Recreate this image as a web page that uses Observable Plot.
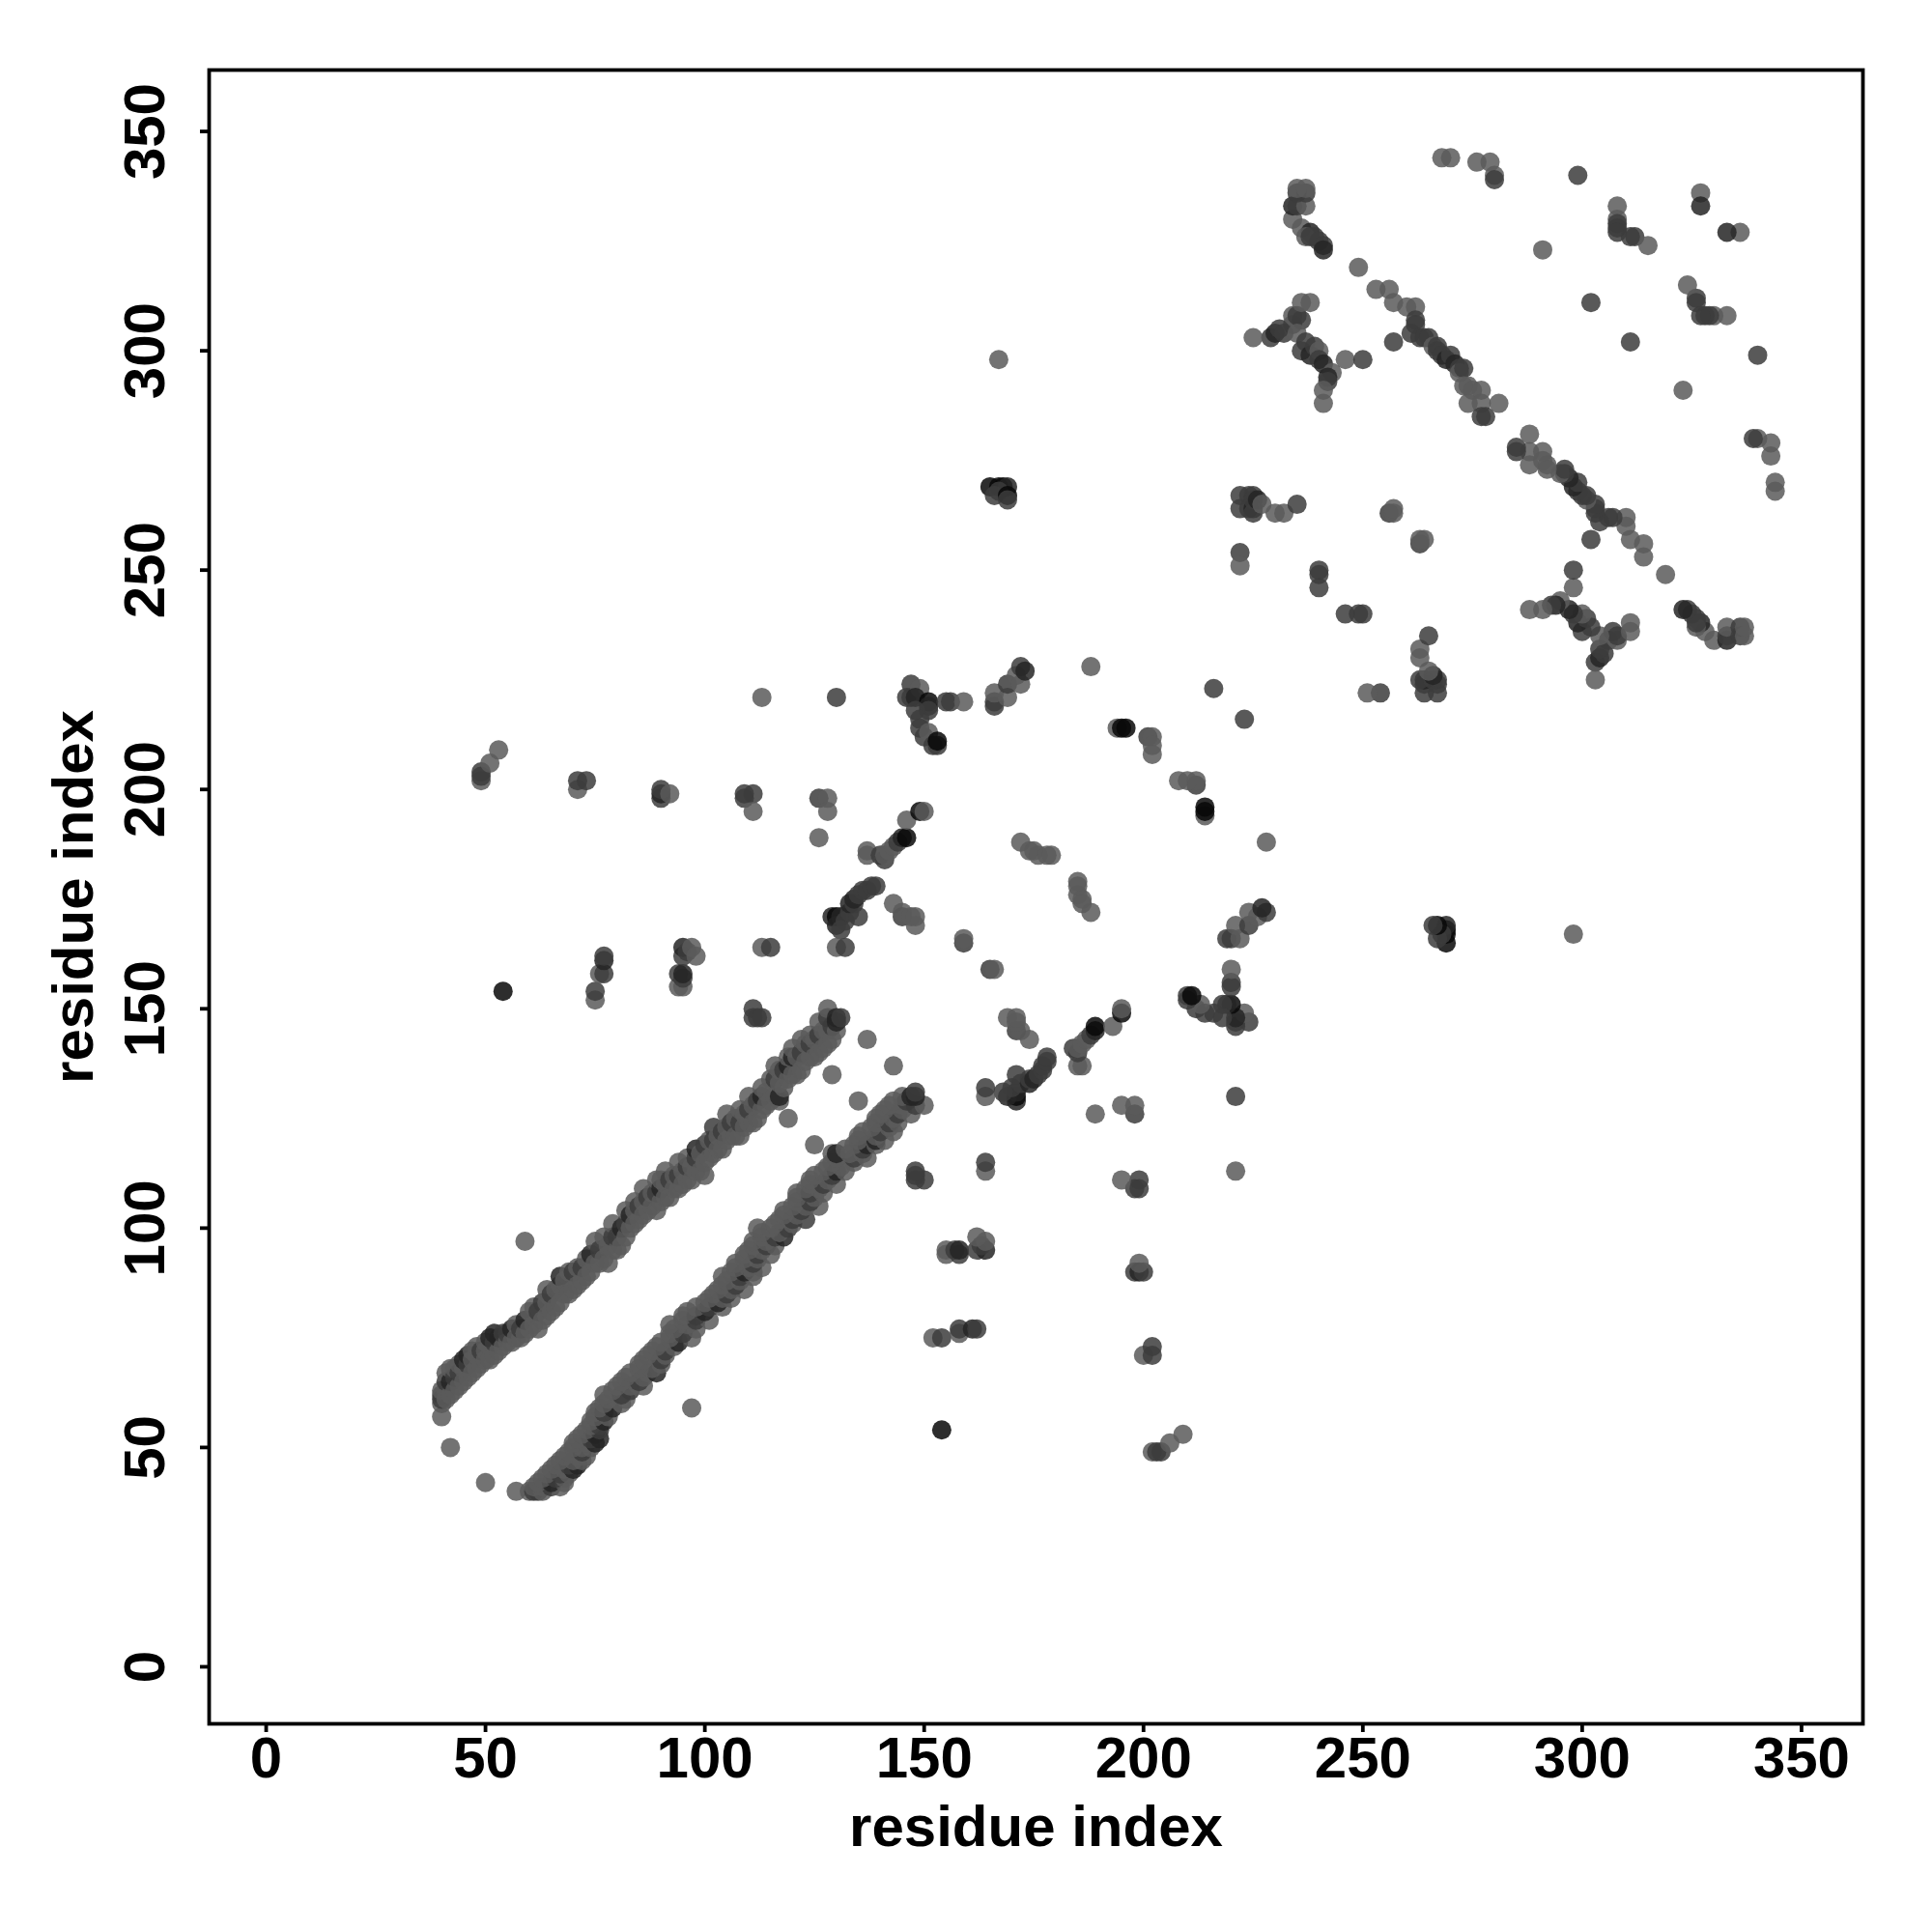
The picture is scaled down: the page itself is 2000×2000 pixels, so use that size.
<!DOCTYPE html>
<html>
<head>
<meta charset="utf-8">
<script src="https://cdn.jsdelivr.net/npm/d3@7"></script>
<script src="https://cdn.jsdelivr.net/npm/@observablehq/plot@0.6"></script>
<style>html,body{margin:0;padding:0;background:#fff}</style>
</head>
<body>
<div id="chart"></div>
<script>
// contacts: [i, j, shade] with i<j; shade 1 light, 2 medium, 3 dark, 4 darkest
const bandLow = [
[40,57,1],[40,60,1],[40,61,2],[40,62,2],[40,63,1],[41,61,1],[41,63,1],[41,65,2],[41,67,1],[42,50,1],[42,62,1],[42,65,3],[42,68,1],
[43,63,1],[43,66,2],[43,68,1],[44,64,1],[44,67,2],[44,69,1],[45,65,1],[45,68,1],[45,70,3],[46,66,1],[46,69,2],[46,71,3],
[47,67,1],[47,70,1],[47,72,1],[48,68,1],[48,71,1],[48,73,1],[49,69,1],[49,72,2],[50,70,1],[50,72,1],[50,74,1],
[51,70,1],[51,73,1],[51,75,3],[52,71,1],[52,74,2],[52,76,3],[53,72,1],[53,75,3],[54,73,1],[54,76,2],[55,74,1],[55,76,2],
[56,74,1],[56,77,3],[57,75,1],[57,78,1],[58,75,1],[58,77,2],[59,76,1],[59,79,3],[59,97,1],[60,77,1],[60,81,1],
[61,78,1],[61,82,1],[62,77,1],[62,81,2],[63,79,1],[63,83,2],[64,80,1],[64,83,1],[64,86,1],[65,81,1],[65,85,2],
[66,82,1],[66,86,1],[67,83,1],[67,87,1],[67,89,3],[68,85,1],[68,88,1],[69,85,1],[69,90,1],[70,86,1],[70,90,2],
[71,87,1],[71,91,1],[72,88,1],[72,91,2],[73,89,1],[73,93,1],[74,90,1],[74,94,3],[75,92,1],[75,97,1],[76,92,1],[76,95,2],
[77,93,1],[77,98,1],[78,92,1],[78,96,1],[79,95,1],[79,98,2],[79,101,1],[80,95,1],[80,98,2],[81,96,1],[81,100,3]
];
const bandHigh = [
[82,98,1],[82,101,2],[82,104,1],[83,100,1],[83,103,3],[84,101,1],[84,104,1],[84,106,1],[85,102,1],[85,105,2],
[86,103,1],[86,106,1],[86,109,1],[87,104,1],[87,107,2],[88,105,1],[88,108,1],[89,104,1],[89,108,2],[89,111,1],
[90,106,1],[90,109,3],[90,111,1],[91,107,1],[91,110,1],[91,113,1],[92,107,1],[92,111,2],[93,109,1],[93,112,1],
[94,109,1],[94,112,2],[94,115,1],[95,110,1],[95,113,1],[96,111,1],[96,114,2],[96,116,1],[97,111,1],[97,114,1],[98,113,1],[98,116,2],[98,118,3],
[99,113,1],[99,117,1],[100,112,1],[100,115,1],[100,119,2],[101,116,1],[101,120,1],[102,117,1],[102,120,2],[102,123,2],
[103,118,1],[103,121,1],[104,118,1],[104,122,2],[105,120,1],[105,123,1],[105,126,1],[106,121,1],[106,124,2],[107,121,1],[107,125,1],
[108,121,1],[108,124,2],[108,127,1],[109,123,1],[109,126,1],[110,124,1],[110,127,2],[110,130,1],[111,124,1],[111,128,1],
[112,125,1],[112,129,2],[113,127,1],[113,130,3],[113,132,1],[114,128,1],[114,131,1],[115,129,1],[115,134,1],
[116,130,1],[116,134,2],[116,137,1],[117,129,1],[117,130,3],[117,133,1],[117,136,1],[118,132,1],[118,136,2],
[119,125,1],[119,134,1],[119,137,3],[119,139,1],[120,135,1],[120,139,3],[120,141,1],[121,135,1],[121,139,1],
[122,136,1],[122,140,2],[122,143,1],[123,138,1],[123,142,1],[124,139,1],[124,142,2],[124,144,1],[125,139,1],[125,143,1],
[126,140,1],[126,144,2],[126,147,1],[127,141,1],[127,145,1],[128,142,1],[128,145,1],[128,148,2],[129,135,1],[129,143,1],[129,146,2],
[128,150,1],[130,145,1],[130,147,3],[130,148,3],[131,148,2],[137,143,1]
];
const leftContacts = [
[49,202,1],[49,203,2],[49,204,2],[51,206,1],[53,209,1],[54,154,4],[71,200,1],[71,202,2],[73,202,2],
[75,152,1],[75,154,2],[76,158,1],[77,158,2],[77,161,3],[77,162,2],
[90,198,2],[90,199,3],[90,200,2],[92,199,1],[94,155,1],[95,155,1],[94,158,2],[95,157,2],[95,158,3],[95,162,2],[95,164,3],[96,163,2],[97,164,1],[98,162,1],
[109,198,2],[109,199,2],[111,199,2],[111,195,1],[111,150,2],[111,148,2],[112,148,2],[113,148,2],[113,164,1],[115,164,2],[113,221,1],
[126,189,1],[126,198,2],[128,198,1],[128,195,1]
];
const midContacts = [
[129,171,3],[130,171,4],[131,171,3],[130,169,3],[132,170,2],[131,168,2],[130,164,1],[132,164,2],[133,172,2],[135,171,2],[133,174,3],[134,174,2],[134,175,3],[135,176,2],[136,177,2],[137,177,2],[138,178,2],[139,178,2],
[130,221,2],[137,185,1],[137,186,1],[140,185,2],[141,184,2],[141,185,1],[142,186,1],[143,187,1],[144,188,2],[145,189,3],[146,189,4],[146,193,1],[149,195,4],[150,195,1],
[143,174,1],[145,171,2],[145,172,1],[147,171,1],[148,169,1],[148,171,1],
[146,221,2],[147,221,2],[147,224,2],[149,223,1],[148,221,3],[151,220,4],[151,219,3],[151,218,2],[148,218,2],[149,216,2],[149,214,2],[150,212,2],[151,213,1],[152,210,2],[153,210,2],[153,211,4],
[155,220,2],[156,220,2],[159,220,1],[159,165,2],[159,166,1],
[166,219,2],[166,220,2],[166,222,1],[169,221,1],[169,224,2],[171,226,1],[172,224,1],[172,228,2],[173,227,3],
[172,188,1],[174,186,1],[175,186,1],[176,185,1],[178,185,1],[179,185,1],
[188,228,1],[194,214,1],[195,214,4],[196,214,4],[201,212,2],[202,212,1],[202,210,1],[202,208,1],[216,223,2]
];
const farContacts = [
[165,269,4],[167,269,4],[168,269,4],[169,269,3],[166,267,2],[167,268,2],[169,267,4],[169,266,2],[167,298,1],
[222,267,2],[224,267,2],[225,267,2],[222,264,2],[224,264,2],[225,264,3],[225,263,2],[225,266,2],[226,266,3],[227,265,1],[230,263,1],[232,263,1],[235,265,2],[222,254,2],[222,251,1],
[229,303,2],[230,304,3],[225,303,1],[231,305,2],[232,304,2],[234,306,2],[234,308,1],[235,308,2],[236,307,2],[236,311,1],[238,311,1],[235,304,1],[237,302,2],[236,300,2],[238,299,3],[239,301,2],[240,300,1],[240,298,2],[241,297,3],[243,295,1],[242,294,3],[242,293,2],[241,291,1],[241,288,1],[246,298,1],[250,298,2],
[234,330,1],[234,333,3],[235,333,2],[237,333,1],[235,336,2],[237,336,2],[235,337,1],[237,337,1],[236,328,1],[238,327,3],[239,326,2],[237,326,1],[238,326,2],[240,325,2],[241,324,2],[241,323,3],
[240,246,2],[240,249,2],[240,250,2],[256,263,2],[257,263,1],[257,264,1],
[249,319,1],[253,314,1],[256,314,1],[257,311,1],[260,310,1],[262,310,1],[262,307,2],[262,306,2],[261,304,2],[257,302,2],[263,303,2],[264,303,2],[265,303,2],[266,301,1],[267,301,2],[267,300,2],[268,299,2],[269,298,3],[270,299,2],[271,297,3],[272,296,2],[272,295,1],[273,296,2],[273,292,1],[274,292,1],[274,288,1],[275,291,1],[277,291,1],[277,288,1],[278,285,2],[277,285,2],[281,288,1],
[268,344,1],[270,344,1],[276,343,1],[279,343,1],[280,340,1],[280,339,2],[291,323,1],[299,340,2],[302,311,2],[308,333,1],[308,330,1],[308,329,2],[308,328,2],[308,327,2],[311,326,2],[312,326,2],[315,324,1],[327,336,1],[327,333,3]
];
const xTicks = [0,50,100,150,200,250,300,350];
const shadeFill = {1:"#5a5a5a",2:"#3c3c3c",3:"#242424",4:"#080808"};
const axisTitle = "residue index";

const upper = [...bandLow,...bandHigh,...leftContacts,...midContacts,...farContacts];
// the contact map holds each pair on both sides of the diagonal
const rows = [];
for (const [i,j,s] of upper) rows.push({i,j,s});
for (const [i,j,s] of upper) rows.push({i:j,j:i,s});

const chart = Plot.plot({
  width:2000,height:2000,
  marginLeft:216,marginRight:72,marginTop:72,marginBottom:216,
  style:{fontFamily:"'Liberation Sans',Arial,sans-serif",background:"#fff",color:"#000",overflow:"visible"},
  x:{domain:[-13,364],label:null},
  y:{domain:[-13,364],label:null},
  color:{type:"identity"},
  marks:[
    Plot.dot(rows,{x:"i",y:"j",r:10,fill:d=>shadeFill[d.s],fillOpacity:0.85,stroke:"none"}),
    Plot.frame({stroke:"#000",strokeWidth:3.8}),
    Plot.axisX({ticks:xTicks,tickSize:9,strokeWidth:3.8,tickPadding:4,fontSize:60,fontWeight:"bold",tickFormat:d=>String(d),label:axisTitle,labelAnchor:"center",labelArrow:"none",labelOffset:126}),
    Plot.axisY({ticks:xTicks,tickSize:9,strokeWidth:3.8,tickPadding:38,tickRotate:-90,fontSize:60,fontWeight:"bold",tickFormat:d=>String(d),label:axisTitle,labelAnchor:"center",labelArrow:"none",labelOffset:163})
  ]
});
document.getElementById("chart").appendChild(chart);
</script>
</body>
</html>
